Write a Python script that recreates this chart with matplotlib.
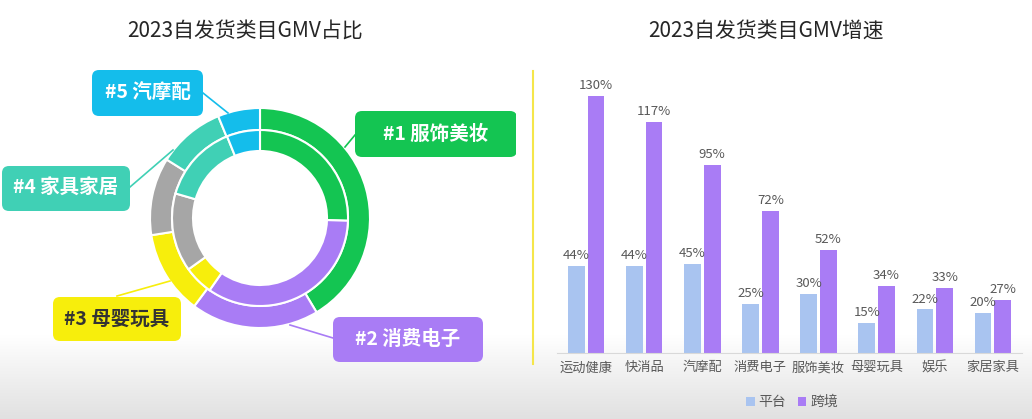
import matplotlib

matplotlib.use("Agg")
import matplotlib.pyplot as plt
import numpy as np
from matplotlib.lines import Line2D
from matplotlib.patches import FancyBboxPatch

plt.rcParams["font.family"] = ["Noto Sans CJK SC", "DejaVu Sans"]

# ---- data ----
donut_cats = ["服饰美妆", "消费电子", "母婴玩具", "其他", "家具家居", "汽摩配"]
outer_share = [41.4, 18.8, 12.3, 11.4, 9.9, 6.2]
inner_share = [25.5, 34.2, 5.4, 14.4, 14.4, 6.1]
donut_colors = ["#14C552", "#A97CF5", "#F7EE0C", "#A6A6A6", "#40D0B5", "#14BDEB"]

bar_cats = ["运动健康", "快消品", "汽摩配", "消费电子", "服饰美妆", "母婴玩具", "娱乐", "家居家具"]
platform = [44, 44, 45, 25, 30, 15, 22, 20]
cross = [130, 117, 95, 72, 52, 34, 33, 27]

W, H = 1032, 419


def px_rect(x0, y0, x1, y1):
    return [x0 / W, 1 - y1 / H, (x1 - x0) / W, (y1 - y0) / H]


fig = plt.figure(figsize=(W / 100, H / 100), dpi=100)

# screenshot-like grey fade at the bottom
bg = fig.add_axes([0, 0, 1, 1])
rows = np.arange(H)
shade = np.where(rows < 335, 1.0, 1.0 - (rows - 335) / (H - 335) * 0.12)
grad = np.repeat(shade[:, None], 4, axis=1)
bg.imshow(np.dstack([grad, grad, grad]), aspect="auto", extent=[0, 1, 0, 1])
bg.axis("off")

# ---- left: double donut ----
ax = fig.add_axes([0, 0, 516 / W, 1])
ax.set_facecolor("none")
cx, cy = 260, H - 218
ax.pie(outer_share, radius=110, center=(cx, cy), startangle=90, counterclock=False,
       colors=donut_colors, wedgeprops=dict(width=22, edgecolor="white", linewidth=1.5))
ax.pie(inner_share, radius=88, center=(cx, cy), startangle=90, counterclock=False,
       colors=donut_colors, wedgeprops=dict(width=21, edgecolor="white", linewidth=1.5))
ax.set_xlim(0, 516)
ax.set_ylim(0, H)
ax.set_aspect("equal")
ax.axis("off")

# label boxes: (text, colour, text colour, box x0, y0, x1, y1, leader line)
boxes = [
    ("#1 服饰美妆", "#14C552", "white", 355, 111, 517, 157, [(345, 147), (355, 135)]),
    ("#2 消费电子", "#A97CF5", "white", 333, 317, 483, 362, [(290, 325), (333, 338)]),
    ("#3 母婴玩具", "#F7EE0C", "#333333", 53, 297, 181, 341, [(117, 296), (170, 281)]),
    ("#4 家具家居", "#40D0B5", "white", 2, 166, 130, 211, [(130, 187), (173, 150)]),
    ("#5 汽摩配", "#14BDEB", "white", 92, 70, 203, 116, [(203, 93), (228, 113)]),
]
for txt, col, tcol, x0, y0, x1, y1, line in boxes:
    (lx0, ly0), (lx1, ly1) = line
    ax.plot([lx0, lx1], [H - ly0, H - ly1], color=col, lw=1.2, zorder=1)
    ax.add_patch(FancyBboxPatch((x0, H - y1), x1 - x0, y1 - y0,
                                boxstyle="round,pad=0,rounding_size=7",
                                facecolor=col, edgecolor="none", zorder=2))
    ax.text((x0 + x1) / 2, H - (y0 + y1) / 2, txt, ha="center", va="center",
            fontsize=14, weight="bold", color=tcol, zorder=3)

fig.text(245 / W, 1 - 31 / H, "2023自发货类目GMV占比", ha="center", va="center",
         fontsize=15, color="#262626")
fig.text(766 / W, 1 - 31 / H, "2023自发货类目GMV增速", ha="center", va="center",
         fontsize=15, color="#262626")

# divider
fig.add_artist(Line2D([533 / W, 533 / W], [1 - 71 / H, 1 - 364 / H],
                      color="#F5E64A", lw=1.5))

# ---- right: grouped bars ----
ax2 = fig.add_axes(px_rect(557, 76, 1022, 353))
ax2.set_facecolor("none")
x = np.arange(len(bar_cats))
ax2.bar(x - 0.17, platform, 0.29, color="#A9C4F0", label="平台")
ax2.bar(x + 0.17, cross, 0.29, color="#A97CF5", label="跨境")
for xi, p, c in zip(x, platform, cross):
    ax2.text(xi - 0.17, p + 2, f"{p}%", ha="center", va="bottom", fontsize=9.5, color="#595959")
    ax2.text(xi + 0.17, c + 2, f"{c}%", ha="center", va="bottom", fontsize=9.5, color="#595959")
ax2.set_xlim(-0.5, 7.5)
ax2.set_ylim(0, 140)
ax2.set_xticks(x, bar_cats, fontsize=9.5, color="#595959")
ax2.set_yticks([])
ax2.tick_params(axis="x", length=0, pad=6)
for s in ("top", "right", "left"):
    ax2.spines[s].set_visible(False)
ax2.spines["bottom"].set_color("#D9D9D9")
ax2.legend(loc="center", bbox_to_anchor=(792 / W, 1 - 402 / H), bbox_transform=fig.transFigure,
           ncol=2, frameon=False, handlelength=0.6, handleheight=0.6, handletextpad=0.3,
           columnspacing=0.8, fontsize=10, labelcolor="#595959")

fig.savefig("out.png", dpi=100, facecolor="white")
